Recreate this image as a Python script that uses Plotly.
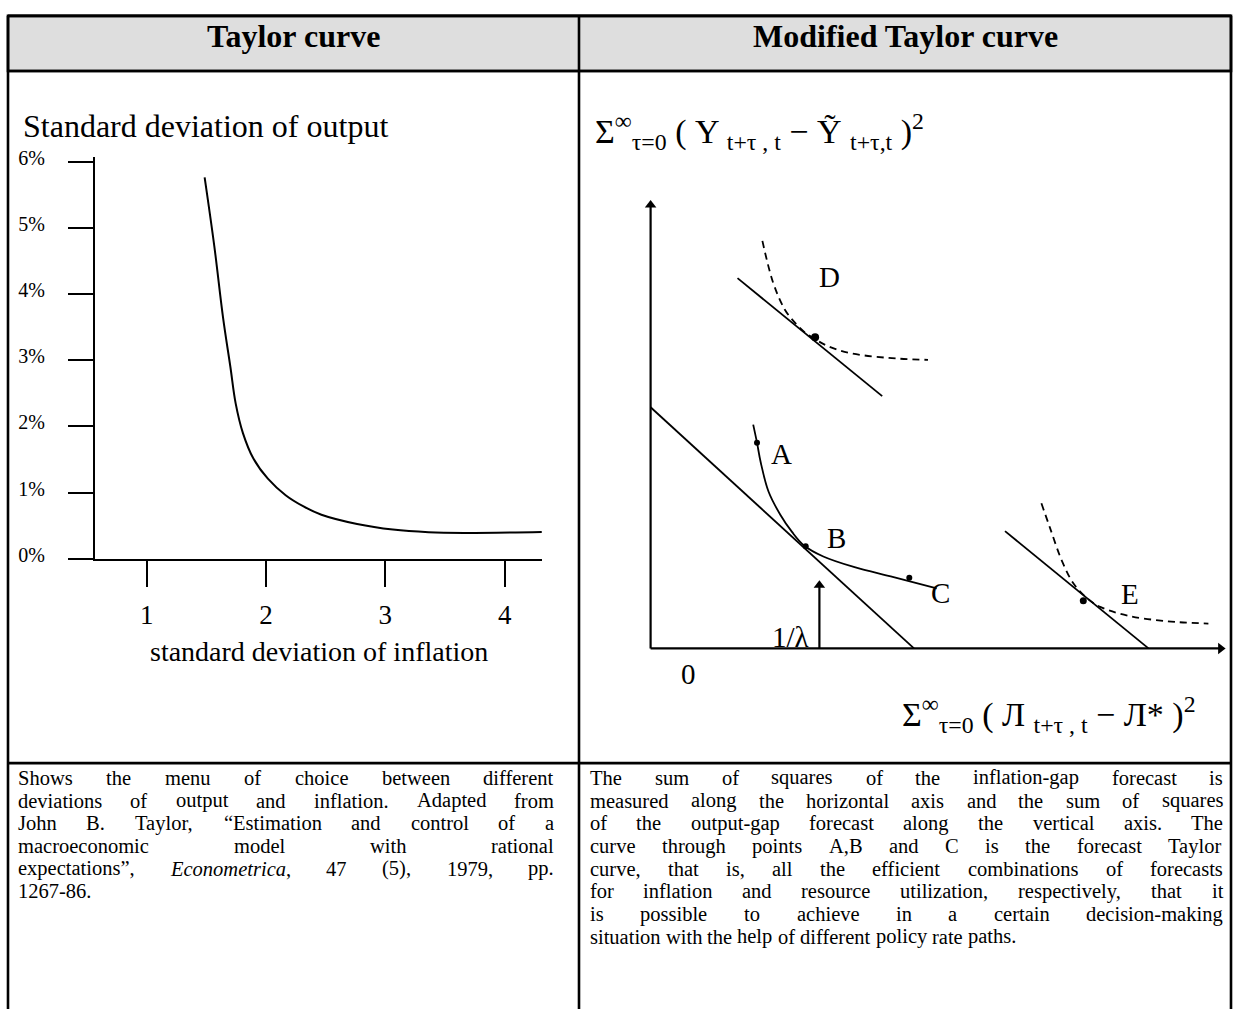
import re
import plotly.graph_objects as go

W, H = 1233, 1015
SERIF = "Liberation Serif, 'Times New Roman', 'DejaVu Serif', serif"

# ---------------- data: left panel (Taylor curve) ----------------
infl_sd = [1.485, 1.566, 1.640, 1.701, 1.745, 1.806, 1.895, 2.015, 2.164,
           2.314, 2.464, 2.763, 3.063, 3.362, 3.661, 4.311]
output_sd = [5.77, 4.73, 3.64, 2.90, 2.35, 1.90, 1.51, 1.21, 0.96,
             0.79, 0.665, 0.525, 0.44, 0.40, 0.39, 0.405]
x_ticks = [1, 2, 3, 4]
y_ticks = [0, 1, 2, 3, 4, 5, 6]
y_tick_labels = ["0%", "1%", "2%", "3%", "4%", "5%", "6%"]

# ---------------- data: right panel (Modified Taylor curve) ----------------
budget_x = [0.0, 5.268]
budget_y = [4.906, 0.0]
frontier_x = [2.052, 2.128, 2.202, 2.36, 2.594, 2.828, 3.062, 3.454, 4.08, 4.86, 5.722]
frontier_y = [4.552, 4.186, 3.786, 3.186, 2.72, 2.37, 2.10, 1.87, 1.652, 1.452, 1.22]
abc_x = [2.128, 3.102, 5.174]
abc_y = [4.186, 2.08, 1.44]

d_line_x = [1.738, 4.632]
d_line_y = [7.532, 5.132]
d_curve_x = [2.236, 2.448, 2.68, 2.908, 3.062, 3.292, 3.522, 3.98, 4.748, 5.548]
d_curve_y = [8.29, 7.45, 6.90, 6.60, 6.45, 6.29, 6.16, 6.01, 5.91, 5.87]
d_point = (3.29, 6.33)

e_line_x = [7.088, 9.958]
e_line_y = [2.386, 0.0]
e_curve_x = [7.816, 7.988, 8.224, 8.458, 8.732, 9.004, 9.552, 10.334, 11.156]
e_curve_y = [2.952, 2.452, 1.786, 1.32, 1.02, 0.84, 0.666, 0.552, 0.506]
e_point = (8.654, 0.97)

lambda_x = 3.376
lambda_len = 1.386
axis_top = 9.12
axis_right = 11.5

# ---------------- text ----------------
header_left = "Taylor curve"
header_right = "Modified Taylor curve"
left_lines = [
    "Shows the menu of choice between different",
    "deviations of output and inflation. Adapted from",
    "John B. Taylor, “Estimation and control of a",
    "macroeconomic model with rational",
    "expectations”, <i>Econometrica</i>, 47 (5), 1979, pp.",
    "1267-86.",
]
right_lines = [
    "The sum of squares of the inflation-gap forecast is",
    "measured along the horizontal axis and the sum of squares",
    "of the output-gap forecast along the vertical axis. The",
    "curve through points A,B and C is the forecast Taylor",
    "curve, that is, all the efficient combinations of forecasts",
    "for inflation and resource utilization, respectively, that it",
    "is possible to achieve in a certain decision-making",
    "situation with the help of different policy rate paths.",
]

# Times metrics (per 1000 em) used to justify lines
ROMAN = {' ': 250, '!': 333, '"': 408, '%': 833, "'": 333, '(': 333, ')': 333, '*': 500,
         '+': 564, ',': 250, '-': 333, '.': 250, '/': 278, ':': 278, ';': 278, '=': 564,
         '?': 444, '“': 444, '”': 444,
         'A': 722, 'B': 667, 'C': 667, 'D': 722, 'E': 611, 'F': 556, 'G': 722, 'H': 722,
         'I': 333, 'J': 389, 'K': 722, 'L': 611, 'M': 889, 'N': 722, 'O': 722, 'P': 556,
         'Q': 722, 'R': 667, 'S': 556, 'T': 611, 'U': 722, 'V': 722, 'W': 944, 'X': 722,
         'Y': 722, 'Z': 611,
         'a': 444, 'b': 500, 'c': 444, 'd': 500, 'e': 444, 'f': 333, 'g': 500, 'h': 500,
         'i': 278, 'j': 278, 'k': 500, 'l': 278, 'm': 778, 'n': 500, 'o': 500, 'p': 500,
         'q': 500, 'r': 333, 's': 389, 't': 278, 'u': 500, 'v': 500, 'w': 722, 'x': 500,
         'y': 500, 'z': 444}
for dch in "0123456789":
    ROMAN[dch] = 500
ITALIC = dict(ROMAN)
ITALIC.update({'E': 611, 'c': 444, 'o': 500, 'n': 500, 'm': 722, 'e': 444, 't': 278,
               'r': 389, 'i': 278, 'a': 500})


def word_width(word, size):
    total = 0
    italic = False
    for part in re.split(r'(<i>|</i>)', word):
        if part == '<i>':
            italic = True
        elif part == '</i>':
            italic = False
        else:
            table = ITALIC if italic else ROMAN
            total += sum(table.get(ch, 500) for ch in part)
    return total * size / 1000.0


def px(x):
    return x / W


def py(y):
    return 1 - y / H


annotations = []


def label(text, x, y, size, xanchor='center', yanchor='middle'):
    annotations.append(dict(text=text, x=px(x), y=py(y), xref='paper', yref='paper',
                            xanchor=xanchor, yanchor=yanchor, showarrow=False,
                            borderpad=0, font=dict(family=SERIF, size=size, color='black')))


def justified(lines, x0, x1, y0, dy, size):
    for li, line in enumerate(lines):
        words = line.split(' ')
        widths = [word_width(w, size) for w in words]
        if li == len(lines) - 1 or len(words) == 1:
            gap = 0.25 * size
        else:
            gap = (x1 - x0 - sum(widths)) / (len(words) - 1)
        x = x0
        for w, wd in zip(words, widths):
            label(w, x, y0 + li * dy, size, xanchor='left')
            x += wd + gap


BODY = 20.5
justified(left_lines, 17, 553, 781, 23.1, BODY)
justified(right_lines, 589, 1222, 781, 23.1, BODY)

label("<b>%s</b>" % header_left, 293.6, 26, 32)
label("<b>%s</b>" % header_right, 905.5, 26, 32)

label("Standard deviation of output", 22, 118, 32, xanchor='left')
label("standard deviation of inflation", 319.3, 652, 28)

label("Σ<sup>∞</sup><sub>τ=0</sub> ( Y <sub>t+τ , t</sub> − Ỹ <sub>t+τ,t</sub> )<sup>2</sup>",
      594, 124, 34, xanchor='left')
label("Σ<sup>∞</sup><sub>τ=0</sub> ( Л <sub>t+τ , t</sub> − Л* )<sup>2</sup>",
      901, 716, 34, xanchor='left')

for txt, lx, ly in [("D", 829, 272), ("A", 781, 452), ("B", 837, 537), ("C", 940, 593),
                    ("E", 1130, 594), ("0", 689, 675), ("1/λ", 790, 638)]:
    label(txt, lx, ly, 29)

fig = go.Figure()
black = 'black'
fig.add_trace(go.Scatter(x=infl_sd, y=output_sd, mode='lines', xaxis='x', yaxis='y',
                         line=dict(color=black, width=2, shape='spline', smoothing=1.0)))

# right panel axes and the 1/lambda arrow: shafts plus triangular heads
UNIT_PX = 50.0  # pixels per data unit on the right panel
head = 5.0 / UNIT_PX
arrow_shafts = [([0, 0], [0, axis_top - head]),
                ([0, axis_right - head], [0, 0]),
                ([lambda_x, lambda_x], [0, lambda_len - head])]
for sx, sy in arrow_shafts:
    fig.add_trace(go.Scatter(x=sx, y=sy, mode='lines', xaxis='x2', yaxis='y2',
                             line=dict(color=black, width=2.2)))
fig.add_trace(go.Scatter(x=[0, lambda_x], y=[axis_top - head, lambda_len - head],
                         mode='markers', xaxis='x2', yaxis='y2', cliponaxis=False,
                         marker=dict(symbol='triangle-up', size=10, color=black)))
fig.add_trace(go.Scatter(x=[axis_right - head], y=[0], mode='markers', xaxis='x2', yaxis='y2',
                         cliponaxis=False,
                         marker=dict(symbol='triangle-right', size=10, color=black)))

fig.add_trace(go.Scatter(x=budget_x, y=budget_y, mode='lines', xaxis='x2', yaxis='y2',
                         line=dict(color=black, width=1.8)))
fig.add_trace(go.Scatter(x=frontier_x, y=frontier_y, mode='lines', xaxis='x2', yaxis='y2',
                         line=dict(color=black, width=1.8, shape='spline', smoothing=1.0)))
fig.add_trace(go.Scatter(x=abc_x, y=abc_y, mode='markers', xaxis='x2', yaxis='y2',
                         marker=dict(color=black, size=6)))
fig.add_trace(go.Scatter(x=d_line_x, y=d_line_y, mode='lines', xaxis='x2', yaxis='y2',
                         line=dict(color=black, width=1.8)))
fig.add_trace(go.Scatter(x=d_curve_x, y=d_curve_y, mode='lines', xaxis='x2', yaxis='y2',
                         line=dict(color=black, width=1.8, dash='7px,5px', shape='spline')))
fig.add_trace(go.Scatter(x=[d_point[0]], y=[d_point[1]], mode='markers', xaxis='x2', yaxis='y2',
                         marker=dict(color=black, size=8)))
fig.add_trace(go.Scatter(x=e_line_x, y=e_line_y, mode='lines', xaxis='x2', yaxis='y2',
                         line=dict(color=black, width=1.8)))
fig.add_trace(go.Scatter(x=e_curve_x, y=e_curve_y, mode='lines', xaxis='x2', yaxis='y2',
                         line=dict(color=black, width=1.8, dash='7px,5px', shape='spline')))
fig.add_trace(go.Scatter(x=[e_point[0]], y=[e_point[1]], mode='markers', xaxis='x2', yaxis='y2',
                         marker=dict(color=black, size=7)))

# table frame
LW = 2.6
shapes = [
    dict(type='rect', xref='paper', yref='paper', x0=px(8), x1=px(1231), y0=py(6), y1=py(62),
         fillcolor='#dedede', line=dict(color=black, width=LW), layer='below'),
]
for x in (8, 579, 1231):
    shapes.append(dict(type='line', xref='paper', yref='paper', x0=px(x), x1=px(x),
                       y0=py(6), y1=py(1016), line=dict(color=black, width=LW)))
for y in (6, 62, 766):
    shapes.append(dict(type='line', xref='paper', yref='paper', x0=px(8), x1=px(1231),
                       y0=py(y), y1=py(y), line=dict(color=black, width=LW)))

fig.update_layout(
    width=W, height=H, autosize=False, showlegend=False,
    margin=dict(l=0, r=0, t=0, b=0, pad=0),
    paper_bgcolor='white', plot_bgcolor='rgba(0,0,0,0)',
    font=dict(family=SERIF, color=black),
    shapes=shapes, annotations=annotations,
    xaxis=dict(domain=[px(95), px(542)], range=[0.566, 4.313], anchor='y',
               showline=True, linecolor=black, linewidth=2, showgrid=False, zeroline=False,
               ticks='outside', ticklen=26, tickwidth=2, tickcolor=black,
               tickvals=x_ticks, tickfont=dict(family=SERIF, size=27, color=black),
               ticklabelstandoff=5, fixedrange=True),
    yaxis=dict(domain=[py(558), py(150)], range=[0, 6.07], anchor='x',
               showline=True, linecolor=black, linewidth=2, showgrid=False, zeroline=False,
               ticks='outside', ticklen=25, tickwidth=2, tickcolor=black,
               tickvals=y_ticks, ticktext=y_tick_labels,
               tickfont=dict(family=SERIF, size=20, color=black),
               ticklabelstandoff=19, ticklabelshift=-4, fixedrange=True),
    xaxis2=dict(domain=[px(650.6 - 0.3 * UNIT_PX), px(650.6 + 11.6 * UNIT_PX)],
                range=[-0.3, 11.6], anchor='y2', visible=False, fixedrange=True),
    yaxis2=dict(domain=[py(649.3 + 0.4 * UNIT_PX), py(649.3 - 9.4 * UNIT_PX)],
                range=[-0.4, 9.4], anchor='x2', visible=False, fixedrange=True),
)

fig.write_html("out.html", config={'displayModeBar': False, 'staticPlot': True},
               post_script="document.body.style.margin='0';document.body.style.overflow='hidden';")
